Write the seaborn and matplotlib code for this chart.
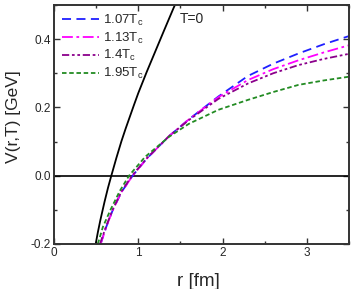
import numpy as np
import pandas as pd
import matplotlib
matplotlib.use("Agg")
import matplotlib.pyplot as plt
from matplotlib.ticker import MultipleLocator
import seaborn as sns

# T = 0 curve
r_T0 = [0.49, 0.52, 0.55, 0.60, 0.64, 0.68, 0.74, 0.80, 0.85, 0.90, 0.95, 1.00, 1.10, 1.20, 1.30, 1.42, 1.50]
v_T0 = [-0.206, -0.166, -0.130, -0.076, -0.036, 0.0, 0.052, 0.101, 0.138, 0.173, 0.208, 0.242, 0.304, 0.363, 0.422, 0.492, 0.535]

# finite temperature curves
r_107 = [0.553, 0.62, 0.698, 0.80, 0.933, 1.10, 1.365, 1.60, 1.95, 2.30, 2.60, 2.90, 3.20, 3.50]
v_107 = [-0.20, -0.15, -0.10, -0.048, 0.0, 0.050, 0.116, 0.165, 0.232, 0.292, 0.328, 0.358, 0.385, 0.409]

r_113 = [0.553, 0.62, 0.698, 0.80, 0.933, 1.10, 1.365, 1.60, 1.95, 2.30, 2.60, 2.90, 3.20, 3.50]
v_113 = [-0.20, -0.15, -0.10, -0.048, 0.0, 0.050, 0.116, 0.165, 0.230, 0.280, 0.312, 0.338, 0.361, 0.382]

r_14 = [0.545, 0.62, 0.695, 0.80, 0.925, 1.10, 1.365, 1.60, 1.95, 2.30, 2.60, 2.90, 3.20, 3.50]
v_14 = [-0.20, -0.147, -0.10, -0.046, 0.0, 0.051, 0.116, 0.163, 0.225, 0.270, 0.300, 0.324, 0.342, 0.357]

r_195 = [0.52, 0.58, 0.67, 0.78, 0.89, 1.08, 1.365, 1.60, 1.95, 2.30, 2.60, 2.90, 3.20, 3.50]
v_195 = [-0.20, -0.15, -0.10, -0.045, 0.0, 0.055, 0.114, 0.152, 0.193, 0.222, 0.245, 0.266, 0.279, 0.290]

labels = [r"1.07T$_{\rm c}$", r"1.13T$_{\rm c}$", r"1.4T$_{\rm c}$", r"1.95T$_{\rm c}$"]

frames = []
for lab, rr, vv in zip(labels, [r_107, r_113, r_14, r_195], [v_107, v_113, v_14, v_195]):
    frames.append(pd.DataFrame({"r": rr, "V": vv, "T": lab}))
df = pd.concat(frames, ignore_index=True)
df0 = pd.DataFrame({"r": r_T0, "V": v_T0})

sns.set_style("ticks")
plt.rcParams["font.family"] = ["Liberation Sans", "DejaVu Sans"]
plt.rcParams["mathtext.fontset"] = "custom"
plt.rcParams["mathtext.rm"] = "Liberation Sans"
plt.rcParams["mathtext.it"] = "Liberation Sans"

fig = plt.figure(figsize=(3.58, 2.89), dpi=100)
ax = fig.add_axes([54/358, 1-244/289, (349-54)/358, (244-5)/289])

ax.axhline(0.0, color="black", lw=1.2, zorder=1)
sns.lineplot(data=df0, x="r", y="V", color="black", lw=1.3, ax=ax, sort=False, legend=False)

colors = ["#1f1fff", "#ff00ff", "#8b008b", "#228b22"]
dashes = [(5, 3), (6, 2, 1.5, 2), (4, 1.5, 1.5, 1.5, 1.5, 1.5), (2.5, 1.5)]
for lab, c, d in zip(labels, colors, dashes):
    sub = df[df["T"] == lab]
    sns.lineplot(data=sub, x="r", y="V", color=c, lw=1.3, ax=ax, sort=False,
                 label=lab, dashes=False, linestyle=(0, d))

ax.text(1.49, 0.458, "T=0", fontsize=10, va="center", ha="left")

ax.set_xlim(0, 3.5)
ax.set_ylim(-0.2, 0.5)
ax.xaxis.set_major_locator(MultipleLocator(1))
ax.xaxis.set_minor_locator(MultipleLocator(0.5))
ax.yaxis.set_major_locator(MultipleLocator(0.2))
ax.yaxis.set_minor_locator(MultipleLocator(0.1))
ax.set_xticks([0, 1, 2, 3])
ax.set_xticklabels(["0", "1", "2", "3"])
ax.set_yticks([-0.2, 0.0, 0.2, 0.4])
ax.set_yticklabels(["-0.2", "0.0", "0.2", "0.4"])
ax.tick_params(which="both", direction="in", top=True, right=True, labelsize=8.5,
               color="#333333", width=1.0, pad=2)
ax.tick_params(which="major", length=4)
ax.tick_params(which="minor", length=2.5)
for s in ax.spines.values():
    s.set_linewidth(1.4)
    s.set_color("#333333")

ax.set_xlabel("r [fm]", fontsize=13.5, labelpad=9)
ax.set_ylabel("V(r,T) [GeV]", fontsize=12.5)
ax.yaxis.set_label_coords(-0.111, (244 - 117) / 239)
ax.xaxis.set_label_coords((198 - 54) / 295, -0.12)
ax.xaxis.label.set_va("top")

leg = ax.legend(loc="upper left", frameon=False, fontsize=9.5, handlelength=2.8,
                handletextpad=0.3, labelspacing=0.2, borderaxespad=0.2,
                bbox_to_anchor=(0.0, 1.0))

fig.savefig("out.png", dpi=100)
